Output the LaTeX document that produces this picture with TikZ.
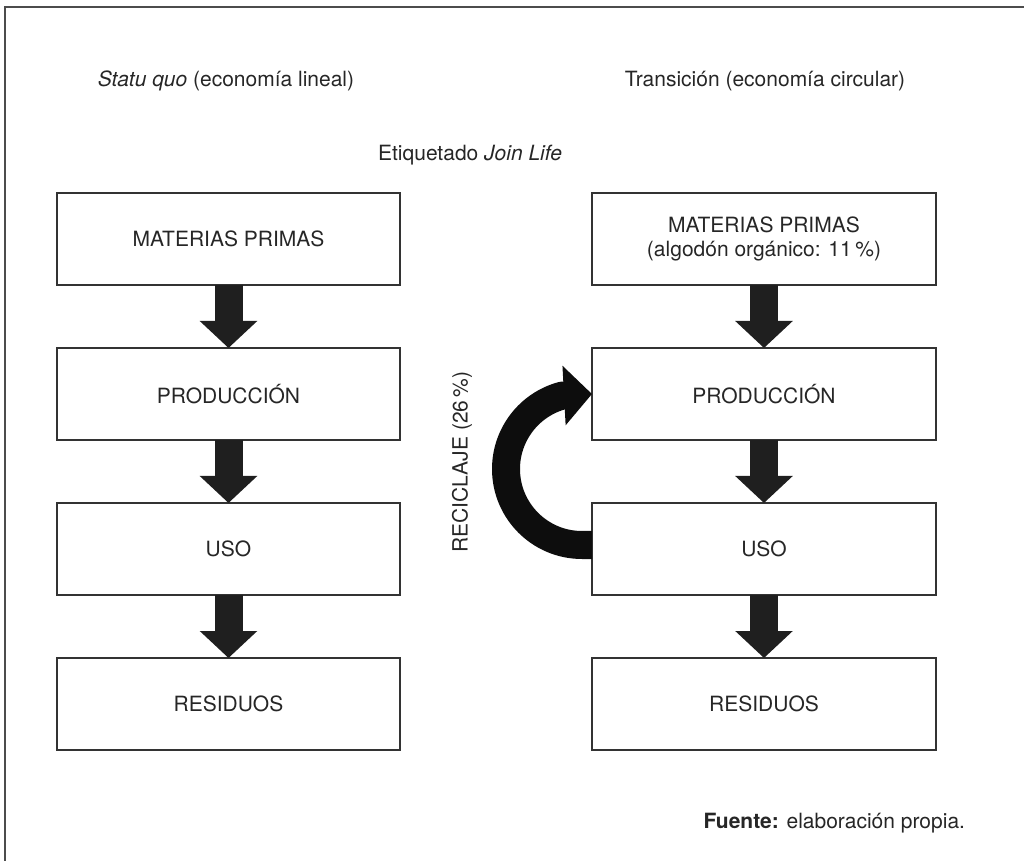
\documentclass[tikz,border=0pt]{standalone}
\usepackage{fontspec}
\setmainfont{TeX Gyre Heros}
\usetikzlibrary{arrows.meta,positioning}

\begin{document}
\begin{tikzpicture}[x=0.5pt,y=-0.5pt]

\tikzset{inner sep=0mm,outer sep=0mm,
caja/.style={draw=black!80,line width=0.6pt,minimum width=171.5pt,minimum height=46pt,
  align=center,font=\fontsize{10.5}{12}\selectfont,text=black!85},
texto/.style={font=\fontsize{10.5}{12}\selectfont,text=black!85},
flecha/.style={draw=black!88,line width=14pt,-{Triangle[length=13.5pt,width=28pt]}},
reciclaje/.style={draw=black!95,line width=14pt,line join=round,-{Triangle[length=14pt,width=29pt]}},
marco/.style={draw=black!70,line width=1pt}}

\useasboundingbox (0,0) rectangle (1024,861);

% Frame
\draw[marco] (1024,7) -- (5,7) -- (5,861);

% Titles
\node[texto] (tit1) at (226,81) {\textit{Statu quo} (economía lineal)};
\node[texto] (tit2) at (765,81) {Transición (economía circular)};
\node[texto] (etiq) at (470,155) {Etiquetado \textit{Join Life}};

% Linear economy
\node[caja] (m1) at (228.5,239) {MATERIAS PRIMAS};
\node[caja] (p1) [below=31.5pt of m1] {PRODUCCIÓN};
\node[caja] (u1) [below=31.5pt of p1] {USO};
\node[caja] (r1) [below=31.5pt of u1] {RESIDUOS};

% Circular economy
\node[caja,minimum width=172pt] (m2) at (764,239) {MATERIAS PRIMAS\\(algodón orgánico: 11\,\%)};
\node[caja,minimum width=172pt] (p2) [below=31.5pt of m2] {PRODUCCIÓN};
\node[caja,minimum width=172pt] (u2) [below=31.5pt of p2] {USO};
\node[caja,minimum width=172pt] (r2) [below=31.5pt of u2] {RESIDUOS};

% Arrows
\draw[flecha] (m1.south) -- (p1.north);
\draw[flecha] (p1.south) -- (u1.north);
\draw[flecha] (u1.south) -- (r1.north);

\draw[flecha] (m2.south) -- (p2.north);
\draw[flecha] (p2.south) -- (u2.north);
\draw[flecha] (u2.south) -- (r2.north);

% Recycling loop
\draw[reciclaje] ([yshift=2pt]u2.west) -- ++(-10,0) arc[start angle=90,end angle=255,radius=76] -- (p2.west);
\node[texto,rotate=90] (recic) at (462,462) {RECICLAJE (26\,\%)};

% Source
\node[texto,anchor=east] (fuente) at (965,823) {\textbf{Fuente:} elaboración propia.};

\end{tikzpicture}
\end{document}
